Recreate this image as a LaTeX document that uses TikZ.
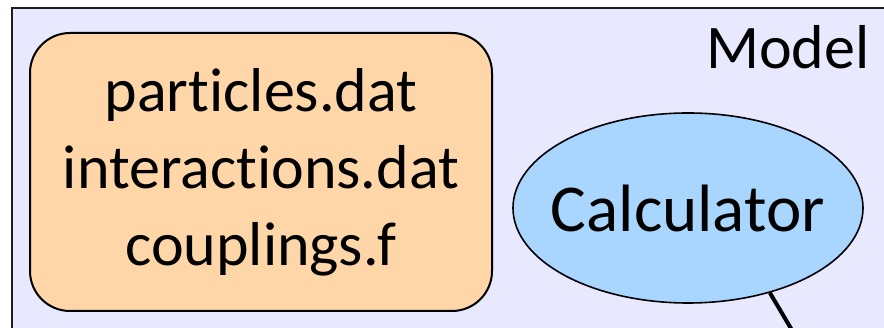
\documentclass[tikz,border=0pt]{standalone}
\usepackage{fontspec}
\setmainfont[Ligatures={NoCommon,NoContextual}]{Carlito}
\usetikzlibrary{shapes.geometric}
\definecolor{modelbg}{RGB}{232,232,255}
\definecolor{filebg}{RGB}{254,214,168}
\definecolor{calcbg}{RGB}{168,214,255}
\definecolor{framecol}{RGB}{30,30,30}
\tikzset{
  bigtext/.style={font=\fontsize{62}{77}\selectfont},
  filebox/.style={draw=black, line width=2pt, fill=filebg, rounded corners=40pt,
    minimum width=462pt, minimum height=278pt, inner sep=0pt, align=center, bigtext},
  calcnode/.style={ellipse, draw=black, line width=1.6pt, fill=calcbg,
    minimum width=350pt, minimum height=190pt, inner xsep=-20pt, inner ysep=0pt,
    font=\fontsize{67}{80}\selectfont},
  link/.style={draw=black, line width=4pt}
}
\begin{document}
\begin{tikzpicture}[x=1pt,y=1pt]
  \path[use as bounding box, clip] (0,0) rectangle (884,328);
  \fill[white] (0,0) rectangle (884,328);
  % model frame, open to the right and bottom
  \draw[fill=modelbg, draw=framecol, line width=2pt] (12,-20) rectangle (900,320);
  \node[anchor=base east, bigtext] (model) at (873,259) {Model};
  \node[filebox] (files) at (261,156)
    {particles.dat\\interactions.dat\\couplings.f};
  \node[calcnode] (calc) at (688,120) {Calculator};
  \coordinate (down) at (812,-36);
  \draw[link] (calc.-46) -- (down);
\end{tikzpicture}
\end{document}
